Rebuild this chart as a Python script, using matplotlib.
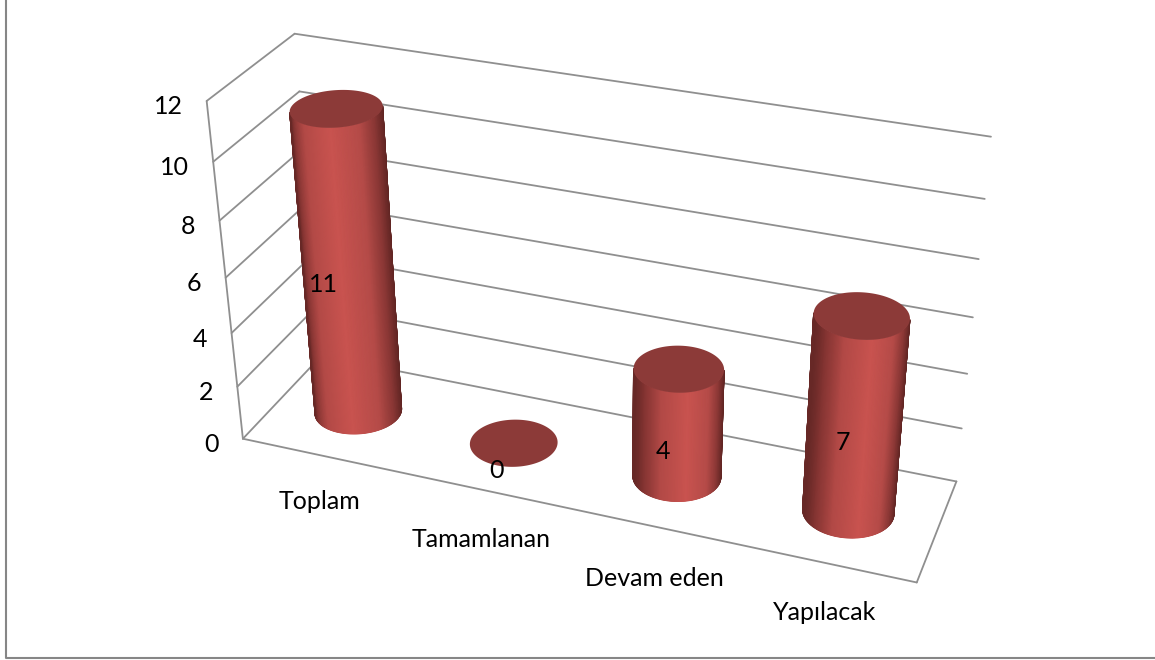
import numpy as np
import matplotlib
matplotlib.use("Agg")
import matplotlib.pyplot as plt
from matplotlib.colors import LinearSegmentedColormap
from matplotlib.patches import Polygon

plt.rcParams["font.family"] = ["Lato", "DejaVu Sans"]

categories = ["Toplam", "Tamamlanan", "Devam eden", "Yapılacak"]
values = [11, 0, 4, 7]
y_ticks = [0, 2, 4, 6, 8, 10, 12]

WIDTH, HEIGHT = 1155, 660
FONT = 18
GRID = "#8f8f8f"
TOP = "#8c3a38"
RZ = 0.265
# cylinder half width per bar, the fitted view widens too much to the right
RX = [0.28, 0.27, 0.258, 0.255]

# layout tweaks, in pixels
LABEL_OFFSET = [(-24, 18), (-17, 27), (-15, 28), (-12, 26)]
CAT_OFFSET = [(0, 46), (1, 50), (7, 53), (0, 50)]
# where the lit part of each cylinder sits, 0 = left edge, 1 = right edge
LIGHT_PEAK = [0.42, 0.5, 0.6, 0.62]

# (category x, value, depth) -> picture pixels, used to fit the 3D view
calib_world = [(0, 0, 0), (0, 12, 0), (0, 12, 1), (4, 12, 1), (4, 0, 1), (4, 0, 0),
               (0, 0, 1), (0, 6, 0), (4, 6, 1)]
calib_px = [(242, 438), (207, 102), (294, 33), (991, 137), (956, 481), (917, 583),
            (322, 357), (226, 277), (973, 317)]


def fit_view(world, px):
    rows = []
    for (x, y, z), (u, v) in zip(world, px):
        rows.append([x, y, z, 1, 0, 0, 0, 0, -u * x, -u * y, -u * z, -u])
        rows.append([0, 0, 0, 0, x, y, z, 1, -v * x, -v * y, -v * z, -v])
    return np.linalg.svd(np.array(rows, float))[2][-1].reshape(3, 4)


VIEW = fit_view(calib_world, calib_px)


def project(x, y, z):
    p = VIEW @ np.array([x, y, z, 1.0])
    return p[:2] / p[2]


def disc(cx, val, rx, angles):
    """Outline of a cylinder end; long axis stays square to the cylinder."""
    c = project(cx, val, 0.5)
    axis = project(cx, val + 1, 0.5) - c
    axis = axis / np.linalg.norm(axis)
    across = np.array([-axis[1], axis[0]])
    if across[0] < 0:
        across = -across
    down = np.array([-across[1], across[0]])
    hw = np.linalg.norm(project(cx + rx, val, 0.5) - project(cx - rx, val, 0.5)) / 2
    hh = abs(project(cx, val, 0.5 + RZ)[1] - project(cx, val, 0.5 - RZ)[1]) / 2
    return (c[0] + hw * np.cos(angles) * across[0] + hh * np.sin(angles) * down[0],
            c[1] + hw * np.cos(angles) * across[1] + hh * np.sin(angles) * down[1])


fig = plt.figure(figsize=(WIDTH / 100, HEIGHT / 100), dpi=100)
ax = fig.add_axes([0, 0, 1, 1])
ax.set_xlim(0, WIDTH)
ax.set_ylim(HEIGHT, 0)
ax.autoscale(False)
ax.axis("off")

# outer frame, only left and bottom show
ax.plot([6, 6, WIDTH], [0, 658, 658], color="#868686", lw=1.5, zorder=1)


def seg(a, b):
    pa, pb = project(*a), project(*b)
    ax.plot([pa[0], pb[0]], [pa[1], pb[1]], color=GRID, lw=1.3, solid_capstyle="round", zorder=2)


n = len(categories)
for t in y_ticks:
    seg((0, t, 0), (0, t, 1))
    seg((0, t, 1), (n, t, 1))
    px, py = project(0, t, 0)
    ax.text(px - 24, py + 6, str(t), ha="right", va="center", fontsize=FONT, color="black")
seg((0, 0, 0), (0, 12, 0))
seg((0, 0, 0), (n, 0, 0))
seg((n, 0, 0), (n, 0, 1))

shade = LinearSegmentedColormap.from_list(
    "cyl", [(0, "#672826"), (0.06, "#873533"), (0.2, "#b24946"), (0.5, "#c9534f"),
            (0.78, "#b54b48"), (0.92, "#8a3735"), (1, "#622624")])

front = np.linspace(0, np.pi, 121)
ring = np.linspace(0, 2 * np.pi, 241)

for i, (name, val) in enumerate(zip(categories, values)):
    cx = i + 0.5
    if val > 0:
        tx, ty = disc(cx, val, RX[i], front)
        bx, by = disc(cx, 0, RX[i], front)
        # silhouette under the mesh keeps the edges smooth
        ax.add_patch(Polygon(np.c_[np.r_[tx, bx[::-1]], np.r_[ty, by[::-1]]],
                             fc="#b54b48", ec="none", zorder=3))
        u = (np.cos(front) + 1) / 2
        u = u ** (np.log(0.5) / np.log(LIGHT_PEAK[i]))
        ax.pcolormesh(np.array([tx, bx]), np.array([ty, by]), np.array([u, u]),
                      cmap=shade, vmin=0, vmax=1, shading="gouraud", zorder=3.5)
    tx, ty = disc(cx, val, RX[i], ring)
    ax.add_patch(Polygon(np.c_[tx, ty], fc=TOP, ec="none", zorder=4))

    mx, my = project(cx, val / 2, 0.5)
    dx, dy = LABEL_OFFSET[i]
    ax.text(mx + dx, my + dy, str(val), ha="center", va="center", fontsize=FONT, color="black", zorder=5)

    lx, ly = project(cx, 0, 0)
    dx, dy = CAT_OFFSET[i]
    ax.text(lx + dx, ly + dy, name, ha="center", va="center", fontsize=FONT, color="black")

fig.savefig("out.png", dpi=100, facecolor="white")
